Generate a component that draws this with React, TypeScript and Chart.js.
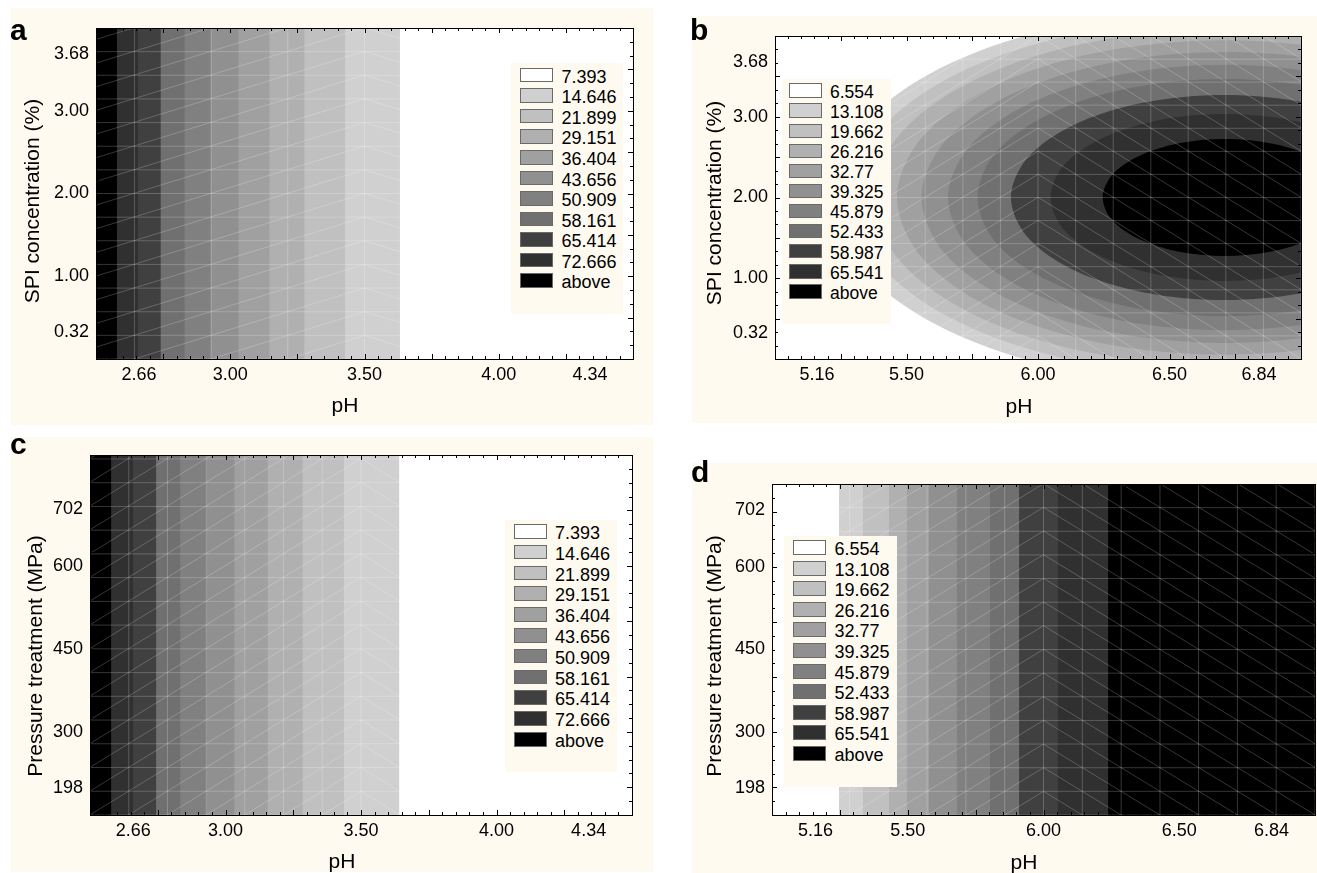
import React, { useEffect, useRef } from 'react';
import { Chart, registerables } from 'chart.js';

Chart.register(...registerables);

const FONT = '"Liberation Sans", Arial, Helvetica, sans-serif';
const CREAM = '#FEFAF0';
const MESH = 'rgba(255,255,255,0.21)';

// ---------- legend levels and gray scale ----------
const levelLabelsAC = ['7.393', '14.646', '21.899', '29.151', '36.404', '43.656', '50.909', '58.161', '65.414', '72.666', 'above'];
const levelLabelsBD = ['6.554', '13.108', '19.662', '26.216', '32.77', '39.325', '45.879', '52.433', '58.987', '65.541', 'above'];
const levelColors = ['#ffffff', '#d0d0d0', '#c0c0c0', '#b0b0b0', '#a0a0a0', '#909090', '#808080', '#707070', '#404040', '#303030', '#000000'];

// ---------- axis tick labels ----------
const phTicksAC = [2.66, 3.0, 3.5, 4.0, 4.34];
const phTicksBD = [5.16, 5.5, 6.0, 6.5, 6.84];
const spiTicks = [0.32, 1.0, 2.0, 3.0, 3.68];
const pressureTicks = [198, 300, 450, 600, 702];

// ---------- band edges (pH where the response crosses each level 1..10) ----------
const bandEdgesA = [3.632, 3.428, 3.276, 3.146, 3.031, 2.927, 2.83, 2.741, 2.656, 2.578];
const bandEdgesC = [3.641, 3.437, 3.285, 3.156, 3.033, 2.93, 2.833, 2.744, 2.659, 2.578];
const bandEdgesD = [5.247, 5.335, 5.427, 5.497, 5.578, 5.681, 5.803, 5.91, 6.053, 6.238];

// ---------- panel b contour polygons (pH, SPI %) ----------
const contourB65541 = [[7.174, 2.0], [7.139, 2.277], [7.038, 2.512], [6.888, 2.669], [6.71, 2.724], [6.532, 2.669], [6.382, 2.512], [6.281, 2.277], [6.246, 2.0], [6.281, 1.723], [6.382, 1.488], [6.532, 1.331], [6.71, 1.276], [6.888, 1.331], [7.038, 1.488], [7.139, 1.723]];
const contourB58987 = [[7.372, 2.0], [7.322, 2.396], [7.178, 2.731], [6.964, 2.955], [6.71, 3.034], [6.456, 2.955], [6.242, 2.731], [6.098, 2.396], [6.048, 2.0], [6.098, 1.604], [6.242, 1.269], [6.456, 1.045], [6.71, 0.966], [6.964, 1.045], [7.178, 1.269], [7.322, 1.604]];
const contourB52433 = [[7.523, 2.0], [7.461, 2.486], [7.285, 2.898], [7.021, 3.173], [6.71, 3.27], [6.399, 3.173], [6.135, 2.898], [5.959, 2.486], [5.897, 2.0], [5.959, 1.514], [6.135, 1.102], [6.399, 0.827], [6.71, 0.73], [7.021, 0.827], [7.285, 1.102], [7.461, 1.514]];
const contourB45879 = [[7.65, 2.0], [7.579, 2.562], [7.375, 3.038], [7.07, 3.356], [6.71, 3.468], [6.35, 3.356], [6.045, 3.038], [5.841, 2.562], [5.77, 2.0], [5.841, 1.438], [6.045, 0.962], [6.35, 0.644], [6.71, 0.532], [7.07, 0.644], [7.375, 0.962], [7.579, 1.438]];
const contourB39325 = [[7.762, 2.0], [7.682, 2.629], [7.454, 3.162], [7.113, 3.518], [6.71, 3.643], [6.307, 3.518], [5.966, 3.162], [5.738, 2.629], [5.658, 2.0], [5.738, 1.371], [5.966, 0.838], [6.307, 0.482], [6.71, 0.357], [7.113, 0.482], [7.454, 0.838], [7.682, 1.371]];
const contourB32770 = [[7.863, 2.0], [7.775, 2.69], [7.525, 3.273], [7.152, 3.664], [6.71, 3.801], [6.268, 3.664], [5.895, 3.273], [5.645, 2.69], [5.557, 2.0], [5.645, 1.31], [5.895, 0.727], [6.268, 0.336], [6.71, 0.199], [7.152, 0.336], [7.525, 0.727], [7.775, 1.31]];
const contourB26216 = [[7.956, 2.0], [7.861, 2.745], [7.591, 3.376], [7.187, 3.798], [6.71, 3.946], [6.233, 3.798], [5.829, 3.376], [5.559, 2.745], [5.464, 2.0], [5.559, 1.255], [5.829, 0.624], [6.233, 0.202], [6.71, 0.054], [7.187, 0.202], [7.591, 0.624], [7.861, 1.255]];
const contourB19662 = [[8.043, 2.0], [7.942, 2.797], [7.652, 3.471], [7.221, 3.923], [6.71, 4.081], [6.199, 3.923], [5.768, 3.471], [5.478, 2.797], [5.377, 2.0], [5.478, 1.203], [5.768, 0.529], [6.199, 0.077], [6.71, -0.081], [7.221, 0.077], [7.652, 0.529], [7.942, 1.203]];
const contourB13108 = [[8.124, 2.0], [8.017, 2.846], [7.71, 3.561], [7.252, 4.04], [6.71, 4.208], [6.168, 4.04], [5.71, 3.561], [5.403, 2.846], [5.296, 2.0], [5.403, 1.154], [5.71, 0.439], [6.168, -0.04], [6.71, -0.208], [7.252, -0.04], [7.71, 0.439], [8.017, 1.154]];
const contourB6554 = [[8.2, 2.0], [8.087, 2.892], [7.763, 3.646], [7.281, 4.151], [6.71, 4.328], [6.139, 4.151], [5.657, 3.646], [5.333, 2.892], [5.22, 2.0], [5.333, 1.108], [5.657, 0.354], [6.139, -0.151], [6.71, -0.328], [7.281, -0.151], [7.763, 0.354], [8.087, 1.108]];

// ---------- surface mesh lines ----------
const meshXa = [2.643, 2.929, 3.214, 3.5, 3.786, 4.071, 4.357];
const meshXc = [2.5, 2.643, 2.786, 2.929, 3.071, 3.214, 3.357, 3.5, 3.643, 3.786, 3.929, 4.071, 4.214, 4.357, 4.5];
const meshXbd = [5.0, 5.143, 5.286, 5.429, 5.571, 5.714, 5.857, 6.0, 6.143, 6.286, 6.429, 6.571, 6.714, 6.857, 7.0];
const meshYab = [0, 0.286, 0.571, 0.857, 1.143, 1.429, 1.714, 2.0, 2.286, 2.571, 2.857, 3.143, 3.429, 3.714, 4.0];
const meshYc = [150, 192.9, 235.7, 278.6, 321.4, 364.3, 407.1, 450, 492.9, 535.7, 578.6, 621.4, 664.3, 707.1, 750, 792.9];
const meshYd = [150, 192.9, 235.7, 278.6, 321.4, 364.3, 407.1, 450, 492.9, 535.7, 578.6, 621.4, 664.3, 707.1, 750];

type Pt = number[];

function rect(x0: number, x1: number, y0: number, y1: number): Pt[] {
  return [[x0, y0], [x1, y0], [x1, y1], [x0, y1]];
}

function bandContours(edges: number[], side: string, xMin: number, xMax: number, yMin: number, yMax: number) {
  const span = yMax - yMin;
  const list = edges.map((e, k) => ({
    pts: side === 'left' ? rect(xMin - 0.5, e, yMin - span, yMax + span) : rect(e, xMax + 0.5, yMin - span, yMax + span),
    color: levelColors[k + 1],
    tension: 0,
  }));
  return list.reverse();
}

const contoursB = [contourB65541, contourB58987, contourB52433, contourB45879, contourB39325, contourB32770, contourB26216, contourB19662, contourB13108, contourB6554].map((pts, i) => ({ pts, color: levelColors[10 - i], tension: 0.33 }));

function buildMesh(meshX: number[], meshY: number[], cx: number, slope: number, xMin: number, xMax: number, yMin: number, yMax: number) {
  const gap = { x: NaN, y: NaN };
  const pts: any[] = [];
  meshX.forEach((x) => pts.push({ x, y: yMin }, { x, y: yMax }, { ...gap }));
  meshY.forEach((y) => pts.push({ x: xMin, y }, { x: xMax, y }, { ...gap }));
  const step = meshY[1] - meshY[0];
  const reach = slope * Math.max(cx - xMin, xMax - cx);
  for (let a = meshY[0]; a <= yMax + reach + step; a += step) {
    pts.push({ x: xMin, y: a - slope * (cx - xMin) }, { x: cx, y: a }, { x: xMax, y: a - slope * (xMax - cx) }, { ...gap });
  }
  return pts;
}

const panels: any[] = [
  {
    key: 'a', letter: 'a', letterX: 10, letterBase: 40,
    cream: { x: 11, y: 8, w: 642, h: 417 }, area: { l: 96, t: 28, r: 633, b: 359 },
    xMin: 2.5, xMax: 4.5, yMin: 0, yMax: 4, xTicks: phTicksAC, yTicks: spiTicks, xDigits: 2, yDigits: 2,
    xMinor: 0.05, xMajor: 0.25, yMinor: 1 / 6, yMajor: 0.5,
    contours: bandContours(bandEdgesA, 'left', 2.5, 4.5, 0, 4),
    mesh: buildMesh(meshXa, meshYab, 3.5, 1, 2.5, 4.5, 0, 4),
    yTitle: 'SPI concentration (%)', xTitleCx: 345, xTitleBase: 412, yTitleCx: 30.7, yTitleCy: 201,
    legendLabels: levelLabelsAC,
    legend: { box: { x: 511, y: 63.3, w: 112.3, h: 251 }, swX: 520, swW: 33, swH: 14.6, top0: 67.7, pitch: 20.56, textX: 561.5, font: 18 },
  },
  {
    key: 'b', letter: 'b', letterX: 690, letterBase: 40,
    cream: { x: 692, y: 16, w: 625, h: 407 }, area: { l: 775, t: 36, r: 1301, b: 359 },
    xMin: 5, xMax: 7, yMin: 0, yMax: 4, xTicks: phTicksBD, yTicks: spiTicks, xDigits: 2, yDigits: 2,
    xMinor: 0.05, xMajor: 0.25, yMinor: 1 / 6, yMajor: 0.5,
    contours: contoursB,
    mesh: buildMesh(meshXbd, meshYab, 6.0, 2, 5, 7, 0, 4),
    yTitle: 'SPI concentration (%)', xTitleCx: 1019, xTitleBase: 413, yTitleCx: 712.7, yTitleCy: 203,
    legendLabels: levelLabelsBD,
    legend: { box: { x: 781.7, y: 79, w: 109, h: 245.3 }, swX: 789.3, swW: 32.7, swH: 14.4, top0: 83.3, pitch: 20.1, textX: 830, font: 17.5 },
  },
  {
    key: 'c', letter: 'c', letterX: 10, letterBase: 454.5,
    cream: { x: 11, y: 437, w: 642, h: 435 }, area: { l: 90, t: 455, r: 632, b: 815 },
    xMin: 2.5, xMax: 4.5, yMin: 150, yMax: 800, xTicks: phTicksAC, yTicks: pressureTicks, xDigits: 2, yDigits: 0,
    xMinor: 0.05, xMajor: 0.25, yMinor: 25, yMajor: 100,
    contours: bandContours(bandEdgesC, 'left', 2.5, 4.5, 150, 800),
    mesh: buildMesh(meshXc, meshYc, 3.5, 300, 2.5, 4.5, 150, 800),
    yTitle: 'Pressure treatment (MPa)', xTitleCx: 342, xTitleBase: 868, yTitleCx: 33.7, yTitleCy: 656,
    legendLabels: levelLabelsAC,
    legend: { box: { x: 504.5, y: 519.5, w: 112.5, h: 252 }, swX: 513.5, swW: 33, swH: 14.6, top0: 524, pitch: 20.8, textX: 555, font: 18 },
  },
  {
    key: 'd', letter: 'd', letterX: 691, letterBase: 482,
    cream: { x: 692, y: 463, w: 625, h: 410 }, area: { l: 772, t: 484, r: 1315, b: 815 },
    xMin: 5, xMax: 7, yMin: 150, yMax: 750, xTicks: phTicksBD, yTicks: pressureTicks, xDigits: 2, yDigits: 0,
    xMinor: 0.05, xMajor: 0.25, yMinor: 25, yMajor: 100,
    contours: bandContours(bandEdgesD, 'right', 5, 7, 150, 750),
    mesh: buildMesh(meshXbd, meshYd, 6.0, 300, 5, 7, 150, 750),
    yTitle: 'Pressure treatment (MPa)', xTitleCx: 1024, xTitleBase: 869, yTitleCx: 712.7, yTitleCy: 656,
    legendLabels: levelLabelsBD,
    legend: { box: { x: 784.3, y: 536, w: 112.4, h: 251.3 }, swX: 793.3, swW: 32.4, swH: 15, top0: 540, pitch: 20.6, textX: 834.5, font: 18 },
  },
];

function minorValues(min: number, max: number, step: number) {
  const out: number[] = [];
  const start = Math.ceil(min / step - 1e-9);
  const end = Math.floor(max / step + 1e-9);
  for (let k = start; k <= end; k++) out.push(k * step);
  return out;
}

function isMajor(v: number, major: number) {
  const r = v / major;
  return Math.abs(r - Math.round(r)) < 1e-6;
}

function Panel({ def }: { def: any }) {
  const ref = useRef<HTMLCanvasElement>(null);
  const { cream, area } = def;

  useEffect(() => {
    const canvas = ref.current;
    if (!canvas) return;
    // mesh first (index 0 is drawn last, above the filled contours)
    const datasets: any[] = [
      {
        data: def.mesh,
        showLine: true,
        fill: false,
        borderColor: MESH,
        borderWidth: 1,
        pointRadius: 0,
        tension: 0,
        spanGaps: false,
        clip: 0,
      },
    ];
    def.contours.forEach((c: any) =>
      datasets.push({
        data: c.pts.map((p: Pt) => ({ x: p[0], y: p[1] })),
        showLine: true,
        fill: 'shape',
        backgroundColor: c.color,
        borderColor: 'rgba(0,0,0,0)',
        borderWidth: 0,
        pointRadius: 0,
        tension: c.tension,
        spanGaps: false,
        clip: 0,
      })
    );

    const bgPlugin = {
      id: 'plotBg',
      beforeDraw(chart: any) {
        const { ctx, chartArea: a } = chart;
        ctx.save();
        ctx.fillStyle = '#ffffff';
        ctx.fillRect(a.left, a.top, a.right - a.left, a.bottom - a.top);
        ctx.restore();
      },
    };

    const framePlugin = {
      id: 'frameTicks',
      afterDraw(chart: any) {
        const { ctx, chartArea: a } = chart;
        const xs = chart.scales.x;
        const ys = chart.scales.y;
        ctx.save();
        ctx.strokeStyle = '#000';
        ctx.lineWidth = 1;
        ctx.beginPath();
        minorValues(def.xMin, def.xMax, def.xMinor).forEach((v) => {
          const px = Math.round(xs.getPixelForValue(v)) + 0.5;
          if (px < a.left + 1 || px > a.right - 1) return;
          const len = isMajor(v, def.xMajor) ? 5 : 3;
          ctx.moveTo(px, a.bottom);
          ctx.lineTo(px, a.bottom - len);
          ctx.moveTo(px, a.top);
          ctx.lineTo(px, a.top + len);
        });
        minorValues(def.yMin, def.yMax, def.yMinor).forEach((v) => {
          const py = Math.round(ys.getPixelForValue(v)) + 0.5;
          if (py < a.top + 1 || py > a.bottom - 1) return;
          const len = isMajor(v, def.yMajor) ? 5 : 3;
          ctx.moveTo(a.left, py);
          ctx.lineTo(a.left + len, py);
          ctx.moveTo(a.right, py);
          ctx.lineTo(a.right - len, py);
        });
        ctx.stroke();
        ctx.strokeRect(a.left + 0.5, a.top + 0.5, a.right - a.left, a.bottom - a.top);
        ctx.restore();
      },
    };

    const tickFont = { family: FONT, size: 18 };
    const chart = new Chart(canvas, {
      type: 'scatter',
      data: { datasets },
      options: {
        responsive: false,
        animation: false,
        devicePixelRatio: 1,
        events: [],
        layout: {
          padding: {
            left: 0,
            top: area.t - cream.y,
            right: cream.x + cream.w - area.r,
            bottom: 0,
          },
        },
        elements: { point: { radius: 0 }, line: { capBezierPoints: false } },
        plugins: {
          legend: { display: false },
          tooltip: { enabled: false },
          title: { display: false },
          filler: { drawTime: 'beforeDatasetsDraw' },
        },
        scales: {
          x: {
            type: 'linear',
            position: 'bottom',
            min: def.xMin,
            max: def.xMax,
            grid: { display: false, drawTicks: false },
            border: { display: false },
            ticks: {
              autoSkip: false,
              maxRotation: 0,
              padding: 5,
              color: '#000',
              font: tickFont,
              callback: (v: any) => Number(v).toFixed(def.xDigits),
            },
            afterBuildTicks: (s: any) => {
              s.ticks = def.xTicks.map((v: number) => ({ value: v }));
            },
            afterFit: (s: any) => {
              s.height = cream.y + cream.h - area.b;
            },
          },
          y: {
            type: 'linear',
            position: 'left',
            min: def.yMin,
            max: def.yMax,
            grid: { display: false, drawTicks: false },
            border: { display: false },
            ticks: {
              autoSkip: false,
              padding: 7,
              color: '#000',
              font: tickFont,
              callback: (v: any) => Number(v).toFixed(def.yDigits),
            },
            afterBuildTicks: (s: any) => {
              s.ticks = def.yTicks.map((v: number) => ({ value: v }));
            },
            afterFit: (s: any) => {
              s.width = area.l - cream.x;
            },
          },
        },
      } as any,
      plugins: [bgPlugin, framePlugin],
    });
    return () => chart.destroy();
  }, []);

  const lg = def.legend;
  const titleSize = 21;
  return (
    <>
      <div style={{ position: 'absolute', left: cream.x, top: cream.y, width: cream.w, height: cream.h, background: CREAM }}>
        <canvas ref={ref} width={cream.w} height={cream.h} style={{ display: 'block', width: cream.w, height: cream.h }} />
      </div>
      <div style={{ position: 'absolute', left: lg.box.x, top: lg.box.y, width: lg.box.w, height: lg.box.h, background: CREAM }} />
      {def.legendLabels.map((lab: string, i: number) => {
        const top = lg.top0 + i * lg.pitch;
        return (
          <React.Fragment key={lab}>
            <div
              style={{
                position: 'absolute', left: lg.swX, top, width: lg.swW, height: lg.swH,
                background: levelColors[i], border: '1px solid #6a6a6a', boxSizing: 'border-box',
              }}
            />
            <div
              style={{
                position: 'absolute', left: lg.textX, top: top + 15.3 - 0.8465 * lg.font,
                fontFamily: FONT, fontSize: lg.font, lineHeight: `${lg.font}px`, color: '#000', whiteSpace: 'nowrap',
              }}
            >
              {lab}
            </div>
          </React.Fragment>
        );
      })}
      <div
        style={{
          position: 'absolute', left: def.xTitleCx, top: def.xTitleBase - 0.8465 * titleSize,
          transform: 'translateX(-50%)', fontFamily: FONT, fontSize: titleSize, lineHeight: `${titleSize}px`,
          color: '#000', whiteSpace: 'nowrap',
        }}
      >
        pH
      </div>
      <div
        style={{
          position: 'absolute', left: def.yTitleCx, top: def.yTitleCy,
          transform: 'translate(-50%, -50%) rotate(-90deg)', fontFamily: FONT, fontSize: titleSize,
          lineHeight: `${titleSize}px`, color: '#000', whiteSpace: 'nowrap',
        }}
      >
        {def.yTitle}
      </div>
      <div
        style={{
          position: 'absolute', left: def.letterX, top: def.letterBase - 0.8465 * 30,
          fontFamily: FONT, fontWeight: 'bold', fontSize: 30, lineHeight: '30px', color: '#000',
        }}
      >
        {def.letter}
      </div>
    </>
  );
}

export default function App() {
  return (
    <div style={{ position: 'absolute', left: 0, top: 0, width: 1317, height: 873, background: '#ffffff', overflow: 'hidden' }}>
      {panels.map((p) => (
        <Panel key={p.key} def={p} />
      ))}
    </div>
  );
}
